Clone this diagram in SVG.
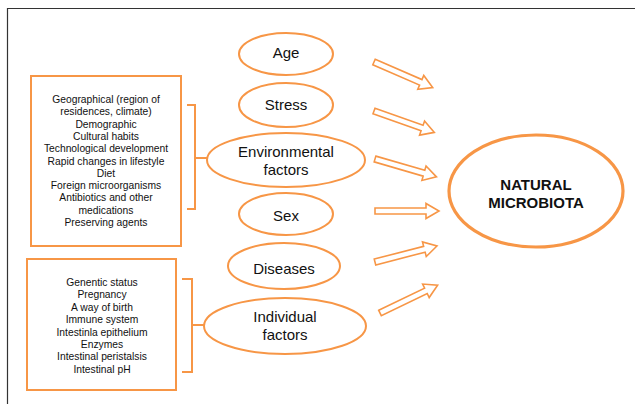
<svg xmlns="http://www.w3.org/2000/svg" width="635" height="404" viewBox="0 0 635 404">
<defs>
<style>
.o{fill:none;stroke:#F79646;stroke-width:2}
.ell{fill:#fff;stroke:#F79646;stroke-width:2}
.big{fill:#fff;stroke:#F79646;stroke-width:3.2}
.arr{fill:#fff;stroke:#F79646;stroke-width:1.6;stroke-linejoin:miter}
.t{font-family:"Liberation Sans",Arial,sans-serif;fill:#111;text-anchor:middle}
.s{font-size:10.3px}
.m{font-size:15px}
.b{font-size:15px;font-weight:bold}
</style>
<path id="ar" d="M0,-3 L51,-3 L51,-7.5 L64,0 L51,7.5 L51,3 L0,3 Z"/>
</defs>
<rect width="635" height="404" fill="#fff"/>
<path d="M7.5,404 V8.5 H635" fill="none" stroke="#333" stroke-width="1.2"/>

<g id="env-list">
<rect class="o" x="31" y="76" width="150" height="170"/>
<text class="t s" x="106"><tspan x="106" y="103">Geographical (region of</tspan><tspan x="106" y="115.3">residences, climate)</tspan><tspan x="106" y="127.6">Demographic</tspan><tspan x="106" y="139.9">Cultural habits</tspan><tspan x="106" y="152.2">Technological development</tspan><tspan x="106" y="164.5">Rapid changes in lifestyle</tspan><tspan x="106" y="176.8">Diet</tspan><tspan x="106" y="189.1">Foreign microorganisms</tspan><tspan x="106" y="201.4">Antibiotics and other</tspan><tspan x="106" y="213.7">medications</tspan><tspan x="106" y="226">Preserving agents</tspan></text>
</g>
<g id="ind-list">
<rect class="o" x="27" y="259" width="149" height="131"/>
<text class="t s"><tspan x="102" y="286">Genentic status</tspan><tspan x="102" y="298.4">Pregnancy</tspan><tspan x="102" y="310.8">A way of birth</tspan><tspan x="102" y="323.2">Immune system</tspan><tspan x="102" y="335.6">Intestinla epithelium</tspan><tspan x="102" y="348">Enzymes</tspan><tspan x="102" y="360.4">Intestinal peristalsis</tspan><tspan x="102" y="372.8">Intestinal pH</tspan></text>
</g>

<g id="connectors">
<path class="o" d="M187,105 H195 V209 H187 M195,158 H208"/>
<path class="o" d="M182,279 H192 V372 H182 M192,325 H204"/>
<use href="#ar" class="arr" transform="translate(374,62) rotate(23.5)"/>
<use href="#ar" class="arr" transform="translate(374,111) rotate(19.5)"/>
<use href="#ar" class="arr" transform="translate(375,159) rotate(16.2)"/>
<use href="#ar" class="arr" transform="translate(375,211)"/>
<use href="#ar" class="arr" transform="translate(375,262) rotate(-14.5)"/>
<use href="#ar" class="arr" transform="translate(380,313) rotate(-25.8)"/>
</g>

<g id="age">
<ellipse class="ell" cx="286" cy="54" rx="47" ry="21"/>
<text class="t m" x="286" y="58">Age</text>
</g>
<g id="stress">
<ellipse class="ell" cx="286" cy="105" rx="47" ry="22"/>
<text class="t m" x="286" y="110">Stress</text>
</g>
<g id="environmental">
<ellipse class="ell" cx="286" cy="160" rx="79" ry="27"/>
<text class="t m" x="286" y="157">Environmental</text>
<text class="t m" x="286" y="175">factors</text>
</g>
<g id="sex">
<ellipse class="ell" cx="286" cy="214" rx="47" ry="21"/>
<text class="t m" x="286" y="221">Sex</text>
</g>
<g id="diseases">
<ellipse class="ell" cx="284" cy="266" rx="56" ry="23"/>
<text class="t m" x="284" y="274">Diseases</text>
</g>
<g id="individual">
<ellipse class="ell" cx="285" cy="326" rx="81" ry="28"/>
<text class="t m" x="285" y="322">Individual</text>
<text class="t m" x="285" y="340">factors</text>
</g>
<g id="natural-microbiota">
<ellipse class="big" cx="536" cy="191" rx="87" ry="56"/>
<text class="t b" x="536" y="190">NATURAL</text>
<text class="t b" x="536" y="208">MICROBIOTA</text>
</g>
</svg>
